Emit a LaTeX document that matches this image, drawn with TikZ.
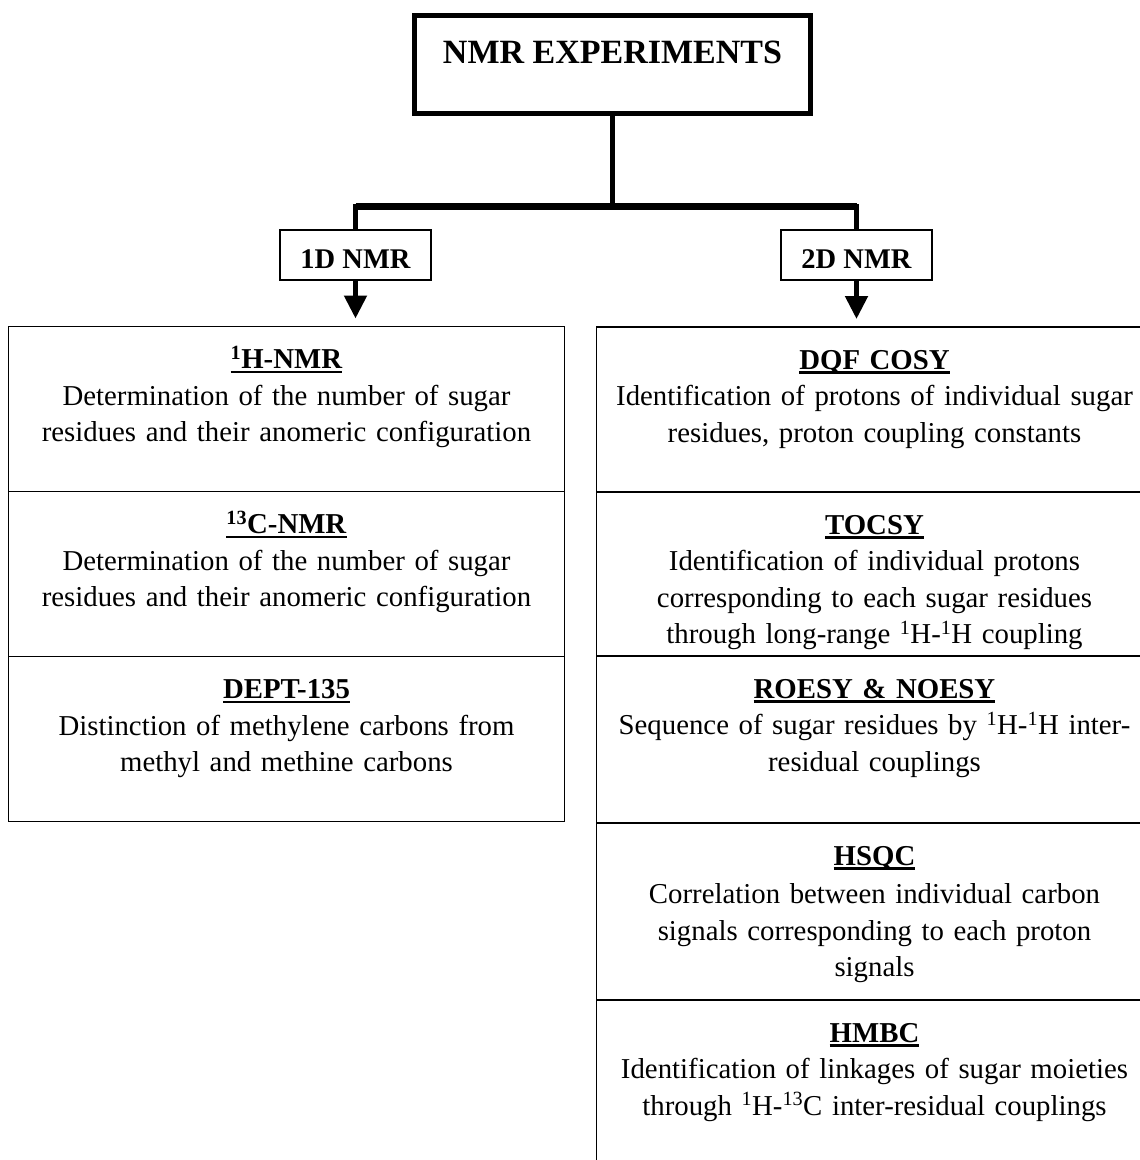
\documentclass[tikz,border=0pt]{standalone}
\usepackage{fontspec}
\setmainfont{Liberation Serif}
\usetikzlibrary{positioning, arrows.meta}

\newsavebox{\headbox}
\newcommand{\exphead}[1]{\sbox{\headbox}{\textbf{#1}}\rlap{\rule[-4.5pt]{\wd\headbox}{2.4pt}}\usebox{\headbox}}

\begin{document}
\begin{tikzpicture}[x=1pt, y=-1pt,
    every node/.style={inner sep=0pt, outer sep=0pt},
    mainbox/.style={draw, line width=5pt, minimum width=396pt, text height=47.5pt, text depth=50.5pt,
      font=\fontsize{34}{40}\selectfont\bfseries},
    kindbox/.style={draw, line width=2pt, minimum width=151pt, text height=38pt, text depth=12pt,
      font=\fontsize{28.5}{34}\selectfont\bfseries},
    cell/.style={draw, line width=1.8pt, text width=556pt, align=center, text height=42pt, text depth=#1,
      font=\fontsize{28.8}{36.5}\selectfont},
    trunk/.style={line width=5.5pt},
    bar/.style={line width=7pt},
    arrow/.style={line width=5pt, -{Triangle[width=22pt, length=23pt]}, shorten >=8pt}]
    \useasboundingbox (0,0) rectangle (1140,1160);
    \clip (0,0) rectangle (1140,1160);

    \node[mainbox, anchor=north] (nmr) at (612.5,15.5) {NMR EXPERIMENTS};
    \node[kindbox] (oned) at (355.5,255) {1D NMR};
    \node[kindbox, right=350pt of oned] (twod) {2D NMR};

    \node[cell=123pt, anchor=north] (hnmr) at (286.5,326.5) {\exphead{\textsuperscript{1}H-NMR}\\
      Determination of the number of sugar\\ residues and their anomeric configuration};
    \node[cell=123pt, below=0pt of hnmr] (cnmr) {\exphead{\textsuperscript{13}C-NMR}\\
      Determination of the number of sugar\\ residues and their anomeric configuration};
    \node[cell=123pt, below=0pt of cnmr] (dept) {\exphead{DEPT-135}\\
      Distinction of methylene carbons from\\ methyl and methine carbons};

    \node[cell=123pt, anchor=north] (dqf) at (874.5,327) {\exphead{DQF COSY}\\
      Identification of protons of individual sugar\\ residues, proton coupling constants};
    \node[cell=122pt, below=0pt of dqf] (tocsy) {\exphead{TOCSY}\\
      Identification of individual protons\\ corresponding to each sugar residues\\
      through long-range \textsuperscript{1}H-\textsuperscript{1}H coupling};
    \node[cell=125pt, below=0pt of tocsy] (noesy) {\exphead{ROESY \& NOESY}\\
      Sequence of sugar residues by \textsuperscript{1}H-\textsuperscript{1}H inter-\\ residual couplings};
    \node[cell=135pt, below=0pt of noesy] (hsqc) {\exphead{HSQC}\\[2pt]
      Correlation between individual carbon\\ signals corresponding to each proton\\ signals};
    \node[cell=158pt, below=0pt of hsqc] (hmbc) {\exphead{HMBC}\\
      Identification of linkages of sugar moieties\\
      through \textsuperscript{1}H-\textsuperscript{13}C inter-residual couplings};

    \coordinate (split) at (612.5,206.5);
    \draw[trunk] (nmr.south) -- (split);
    \draw[trunk] (oned.north) |- (split) -| (twod.north);
    \draw[bar] (oned.north |- split) -- (twod.north |- split);
    \draw[arrow] (oned) -- (oned |- hnmr.north);
    \draw[arrow] (twod) -- (twod |- dqf.north);
\end{tikzpicture}
\end{document}
